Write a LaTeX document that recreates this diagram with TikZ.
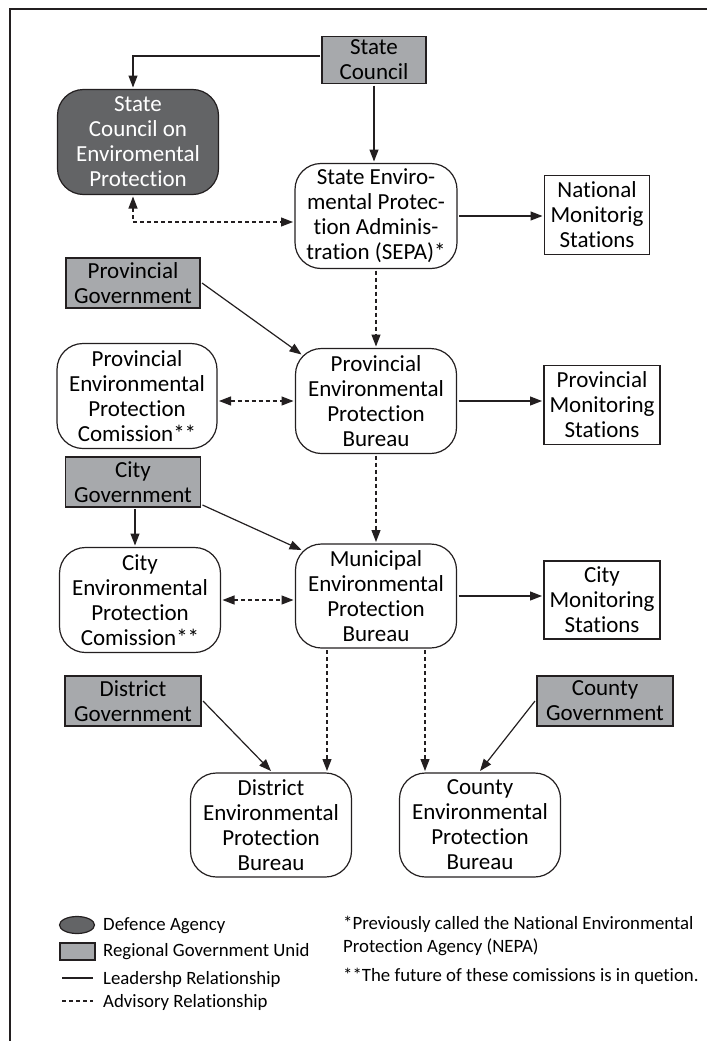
\documentclass[tikz,border=0pt]{standalone}
\usepackage{fontspec}
\setmainfont{Carlito}[Ligatures=NoCommon]
\usetikzlibrary{positioning,arrows.meta}
\definecolor{govgray}{RGB}{167,169,172}
\definecolor{agencygray}{RGB}{99,100,102}
\definecolor{inkline}{RGB}{35,31,32}
\tikzset{
	box/.style={draw=inkline, line width=1.2pt, align=center, inner sep=0pt, outer sep=2pt, font=\fontsize{23}{25}\selectfont},
	bureau/.style={box, rounded corners=26pt, minimum width=161pt, minimum height=105pt},
	govbox/.style={box, fill=govgray, minimum width=135pt, minimum height=50pt},
	station/.style={box, minimum height=79pt},
	lead/.style={->, line width=1.2pt, draw=inkline},
	adv/.style={lead, dash pattern=on 4pt off 3pt},
	keytext/.style={anchor=west, inner sep=0pt, font=\fontsize{18.8}{23}\selectfont}
}
\begin{document}
\begin{tikzpicture}[x=1pt, y=-1pt, >={Triangle[length=12pt,width=9pt]}]
		\useasboundingbox (0,0) rectangle (707,1041);
		\draw[line width=2pt, inkline] (707,9) -- (10,9) -- (10,1041);
		% top level
		\node[govbox, minimum width=104pt, minimum height=47pt] (sc) at (374,60) {State\\Council};
		\node[bureau, fill=agencygray, text=white] (scep) at (138,142) {State\\Council on\\Enviromental\\Protection};
		\node[bureau, minimum width=162pt] (sepa) at (376,216) {State Enviro-\\mental Protec-\\tion Adminis-\\tration (SEPA)*};
		\node[station, minimum width=105pt] (nms) at (597,215) {National\\Monitorig\\Stations};
		% provincial level
		\node[govbox, minimum width=134pt] (pgov) at (133,283) {Provincial\\Government};
		\node[bureau, minimum width=160pt] (pepc) at (137,396) {Provincial\\Environmental\\Protection\\Comission**};
		\node[bureau] (pepb) at (376,401) {Provincial\\Environmental\\Protection\\Bureau};
		\node[station, minimum width=116pt] (pms) at (602,405) {Provincial\\Monitoring\\Stations};
		% city level
		\node[govbox] (cgov) at (133,482) {City\\Government};
		\node[bureau] (cepc) at (140,600) {City\\Environmental\\Protection\\Comission**};
		\node[bureau, minimum height=104pt] (mepb) at (376,596) {Municipal\\Environmental\\Protection\\Bureau};
		\node[station, minimum width=116pt, minimum height=78pt] (cms) at (602,600) {City\\Monitoring\\Stations};
		% district and county level
		\node[govbox, minimum width=136pt] (dgov) at (133,701) {District\\Government};
		\node[bureau, minimum height=104pt] (depb) at (271,825) {District\\Environmental\\Protection\\Bureau};
		\node[govbox, minimum width=136pt] (cogov) at (605,701) {County\\Government};
		\node[bureau, minimum height=104pt] (coepb) at (480,825) {County\\Environmental\\Protection\\Bureau};
		% connectors
		\draw[lead] ([yshift=4pt]sc.west) -| ([xshift=-5pt]scep.north);
		\draw[lead] (sc.south) -- (sc.south |- sepa.north);
		\draw[adv, <->] ([xshift=-5pt]scep.south) |- ([yshift=-6pt]sepa.west);
		\draw[lead] (sepa.east) -- (sepa.east -| nms.west);
		\draw[adv] (sepa.south) -- (sepa.south |- pepb.north);
		\draw[lead] (pgov.east) -- ([xshift=8pt, yshift=-8pt]pepb.north west);
		\draw[adv, <->] (pepb.west -| pepc.east) -- (pepb.west);
		\draw[lead] (pepb.east) -- (pepb.east -| pms.west);
		\draw[adv] (pepb.south) -- (mepb.north);
		\draw[lead] ([yshift=4pt]cgov.south east) -- ([xshift=8pt, yshift=-8pt]mepb.north west);
		\draw[lead] ([xshift=2pt]cgov.south) -- ([xshift=2pt]cgov.south |- cepc.north);
		\draw[adv, <->] (cepc.east) -- (cepc.east -| mepb.west);
		\draw[lead] (mepb.east) -- (mepb.east -| cms.west);
		\draw[adv] ([xshift=-49pt]mepb.south) -- ([xshift=-49pt]mepb.south |- depb.north);
		\draw[adv] ([xshift=49pt]mepb.south) -- ([xshift=49pt]mepb.south |- coepb.north);
		\draw[lead] (dgov.east) -- (depb.north);
		\draw[lead] (cogov.west) -- (coepb.north);
		% key
		\draw[inkline, line width=1.2pt, fill=agencygray] (77,925) ellipse (17.5 and 8.5);
		\draw[inkline, line width=1.2pt, fill=govgray] (60,943) rectangle (95,960);
		\draw[inkline, line width=1.2pt] (62,978) -- (93,978);
		\draw[inkline, line width=1.2pt, dash pattern=on 4pt off 3pt] (62,1001) -- (93,1001);
		\node[keytext] (kagency) at (103,926) {Defence Agency};
		\node[keytext] (kgov) at (103,952) {Regional Government Unid};
		\node[keytext] (klead) at (103,979) {Leadershp Relationship};
		\node[keytext] (kadv) at (103,1002) {Advisory Relationship};
		% notes
		\node[keytext] (note1) at (343,924) {*Previously called the National Environmental};
		\node[keytext] (note2) at (343,947) {Protection Agency (NEPA)};
		\node[keytext] (note3) at (343,976) {**The future of these comissions is in quetion.};
	\end{tikzpicture}
\end{document}
